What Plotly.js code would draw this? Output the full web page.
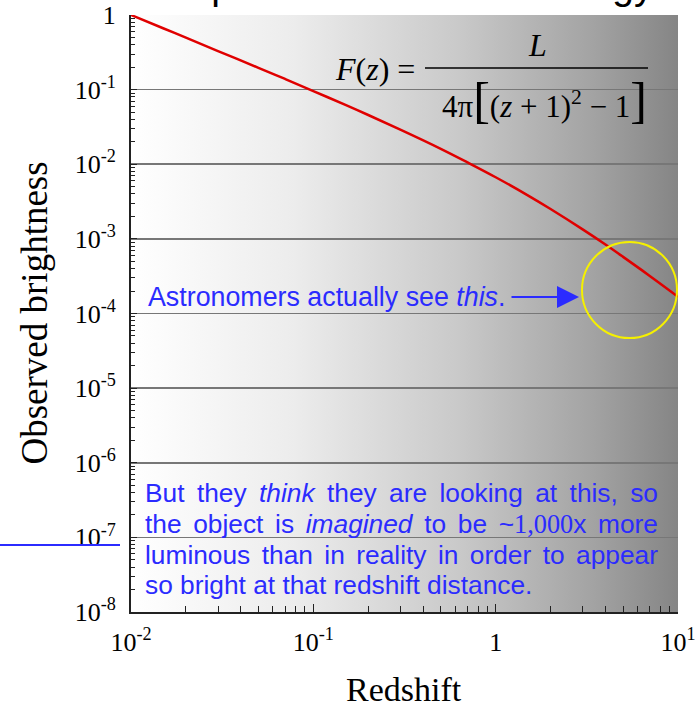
<!DOCTYPE html>
<html>
<head>
<meta charset="utf-8">
<script src="https://cdn.plot.ly/plotly-3.0.1.min.js"></script>
<style>html,body{margin:0;padding:0;background:#fff;}#chart{width:696px;height:710px;}</style>
</head>
<body>
<div id="chart"></div>
<script>
// Data
const redshift = [0.01, 0.015, 0.02, 0.03, 0.05, 0.07, 0.1, 0.15, 0.2, 0.3, 0.5, 0.7, 1, 1.5, 2, 3, 4, 5, 7, 10];
const brightness = [1.0, 0.665, 0.497, 0.329, 0.196, 0.139, 0.0957, 0.0623, 0.0457, 0.0291, 0.0161, 0.0106, 0.0067, 0.00383, 0.00251, 0.00134, 0.00084, 0.000574, 0.000319, 0.000168];

const xTickVals = [0.01, 0.1, 1, 10];
const xTickText = ['10<sup>-2</sup>', '10<sup>-1</sup>', '1', '10<sup>1</sup>'];
const yTickVals = [1e-8, 1e-7, 1e-6, 1e-5, 1e-4, 1e-3, 1e-2, 1e-1, 1];
const yTickText = ['10<sup>-8</sup>', '10<sup>-7</sup>', '10<sup>-6</sup>', '10<sup>-5</sup>', '10<sup>-4</sup>', '10<sup>-3</sup>', '10<sup>-2</sup>', '10<sup>-1</sup>', '1'];
const minorDigits = [2, 3, 4, 5, 6, 7, 8, 9];

const titleText = 'Simple static universe energy';
const seeText = 'Astronomers actually see <i>this</i>.';
const thinkLines = [
  'But they <i>think</i> they are looking at this, so',
  'the object is <i>imagined</i> to be ~<span style="font-family:Liberation Serif">1,000</span>x more',
  'luminous than in reality in order to appear',
  'so bright at that redshift distance.'
];
const justifyWidth = [513, 513, 513, 0];

function minorVals(decades) {
  const out = [];
  decades.slice(0, -1).forEach(d => minorDigits.forEach(m => out.push(d * m)));
  return out;
}

// gradient background image
const gradSvg = '<svg xmlns="http://www.w3.org/2000/svg" width="100" height="10" preserveAspectRatio="none">' +
  '<defs><linearGradient id="g" x1="0" y1="0" x2="1" y2="0">' +
  '<stop offset="0" stop-color="#ffffff"/>' +
  '<stop offset="0.3" stop-color="#ececec"/>' +
  '<stop offset="0.6" stop-color="#c9c9c9"/>' +
  '<stop offset="0.85" stop-color="#a2a2a2"/>' +
  '<stop offset="1" stop-color="#858585"/>' +
  '</linearGradient></defs><rect width="100" height="10" fill="url(#g)"/></svg>';
const gradUri = 'data:image/svg+xml;base64,' + btoa(gradSvg);

const L = 131, R = 678, T = 15, B = 612;
const W = R - L, H = B - T;
const px = (x) => (x - L) / W;
const py = (y) => (B - y) / H;

const blue = '#2b2bff';
const serif = 'Liberation Serif, Times New Roman, serif';
const sans = 'Liberation Sans, Arial, sans-serif';

const traces = [{
  x: redshift, y: brightness, type: 'scatter', mode: 'lines',
  line: {color: '#e00000', width: 2.5, shape: 'spline'}, hoverinfo: 'skip'
}];

const annotations = [
  {xref: 'paper', yref: 'paper', x: px(399), y: py(9), xanchor: 'center', yanchor: 'bottom',
   text: titleText, showarrow: false, font: {family: sans, size: 39, color: '#000'}},
  {xref: 'paper', yref: 'paper', x: px(34), y: 0.5, xanchor: 'center', yanchor: 'middle', textangle: -90,
   text: 'Observed brightness', showarrow: false, font: {family: serif, size: 37, color: '#000'}},
  {xref: 'paper', yref: 'paper', x: px(404), y: py(690), xanchor: 'center', yanchor: 'middle',
   text: 'Redshift', showarrow: false, font: {family: serif, size: 34, color: '#000'}},
  // formula
  {xref: 'paper', yref: 'paper', x: px(417), y: py(69), xanchor: 'right', yanchor: 'middle',
   text: '<i>F</i>(<i>z</i>) =', showarrow: false, font: {family: serif, size: 32, color: '#000'}},
  {xref: 'paper', yref: 'paper', x: px(537), y: py(45), xanchor: 'center', yanchor: 'middle',
   text: '<i>L</i>', showarrow: false, font: {family: serif, size: 32, color: '#000'}},
  {xref: 'paper', yref: 'paper', x: px(544), y: py(100), xanchor: 'center', yanchor: 'middle',
   text: '4π<span style="font-size:50px">[</span>(<i>z</i> + 1)<sup>2</sup> − 1<span style="font-size:50px">]</span>', showarrow: false, font: {family: serif, size: 31, color: '#000'}},
  // astronomers text
  {xref: 'paper', yref: 'paper', x: px(146), y: py(297), xanchor: 'left', yanchor: 'middle',
   text: seeText, showarrow: false, font: {family: sans, size: 26.8, color: blue}},
  {xref: 'paper', yref: 'paper', x: px(579), y: py(297), axref: 'pixel', ayref: 'pixel', ax: -69, ay: 0,
   text: '', showarrow: true, arrowhead: 2, arrowsize: 2.2, arrowwidth: 2, arrowcolor: blue, standoff: 0}
];
const lineYs = [493, 524, 555, 585];
thinkLines.forEach((t, i) => {
  annotations.push({xref: 'paper', yref: 'paper', x: px(143), y: py(lineYs[i]), xanchor: 'left', yanchor: 'middle',
    text: t, showarrow: false, font: {family: sans, size: 26.3, color: blue}});
});

const shapes = [
  {type: 'line', xref: 'paper', yref: 'paper', x0: px(425), x1: px(648), y0: py(68), y1: py(68), line: {color: '#000', width: 1.5}},
  {type: 'circle', xref: 'paper', yref: 'paper', x0: px(582), x1: px(677), y0: py(338), y1: py(242), line: {color: '#f5f000', width: 2}},
  {type: 'line', xref: 'paper', yref: 'paper', x0: px(0), x1: px(120), y0: py(545), y1: py(545), line: {color: blue, width: 2}}
];

const layout = {
  width: 696, height: 710,
  margin: {l: L, r: 696 - R, t: T, b: 710 - B, pad: 0},
  paper_bgcolor: '#ffffff', plot_bgcolor: 'rgba(0,0,0,0)',
  showlegend: false,
  images: [{source: gradUri, xref: 'paper', yref: 'paper', x: 0, y: 1, sizex: 1, sizey: 1,
            sizing: 'stretch', layer: 'below', xanchor: 'left', yanchor: 'top'}],
  xaxis: {type: 'log', range: [-2, 1], tickvals: xTickVals, ticktext: xTickText,
          showgrid: false, zeroline: false, showline: true, linecolor: '#222', linewidth: 2,
          ticks: 'inside', ticklen: 8, tickcolor: '#222', tickwidth: 1,
          minor: {tickmode: 'array', tickvals: minorVals(xTickVals), ticks: 'inside', ticklen: 6, tickcolor: '#222', showgrid: false},
          tickfont: {family: serif, size: 26, color: '#000'}, ticklabelstandoff: 6},
  yaxis: {type: 'log', range: [-8, 0], tickvals: yTickVals, ticktext: yTickText,
          showgrid: true, gridcolor: '#777777', gridwidth: 1.6, zeroline: false,
          showline: true, linecolor: '#222', linewidth: 2,
          ticks: 'inside', ticklen: 6, tickcolor: '#222', tickwidth: 1,
          minor: {tickmode: 'array', tickvals: minorVals(yTickVals), ticks: 'inside', ticklen: 4, tickcolor: '#222', showgrid: false},
          tickfont: {family: serif, size: 26, color: '#000'}, ticklabelstandoff: 8},
  annotations: annotations,
  shapes: shapes
};

Plotly.newPlot('chart', traces, layout, {staticPlot: true, displayModeBar: false}).then(gd => {
  // justify the paragraph lines like the reference text box (keep the left edge fixed)
  const texts = gd.querySelectorAll('text.annotation-text');
  texts.forEach(txt => {
    const content = txt.textContent;
    thinkLines.forEach((line, i) => {
      if (!justifyWidth[i]) return;
      const plain = line.replace(/<[^>]+>/g, '');
      if (content === plain) {
        const left = txt.getBBox().x;
        const w = txt.getComputedTextLength();
        const spaces = (plain.match(/ /g) || []).length;
        if (spaces && w < justifyWidth[i]) {
          txt.style.wordSpacing = ((justifyWidth[i] - w) / spaces) + 'px';
          const newLeft = txt.getBBox().x;
          const prev = txt.getAttribute('transform') || '';
          txt.setAttribute('transform', prev + ' translate(' + (left - newLeft) + ',0)');
        }
      }
    });
  });
});
</script>
</body>
</html>
